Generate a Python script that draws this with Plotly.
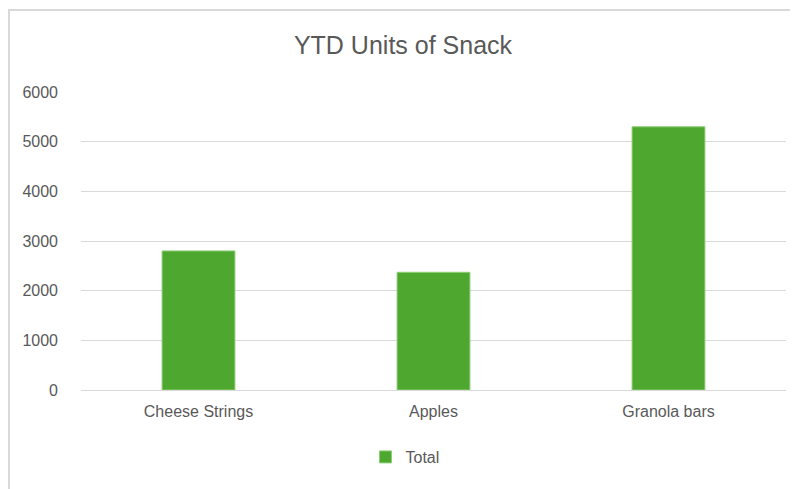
import plotly.graph_objects as go

categories = ["Cheese Strings", "Apples", "Granola bars"]
totals = [2800, 2370, 5300]
y_ticks = [0, 1000, 2000, 3000, 4000, 5000, 6000]

FONT = "Liberation Sans, Arial, sans-serif"
GRAY = "#595959"

fig = go.Figure()
fig.add_trace(go.Bar(
    x=categories, y=totals, name="Total",
    marker=dict(color="#4EA72E", line=dict(color="#8fce78", width=1)),
    width=0.31,
))

# page body has an 8px margin, so figure pixel = screen pixel - 8
W, H = 790, 481
L, R, T, B = 73, 12, 84, 99
pw, ph = W - L - R, H - T - B

def px_x(p):
    return (p - L) / pw

def px_y(p):
    return (H - B - p) / ph

fig.update_layout(
    width=W, height=H,
    margin=dict(l=L, r=R, t=T, b=B),
    paper_bgcolor="white", plot_bgcolor="white",
    font=dict(family=FONT, color=GRAY, size=16),
    title=dict(text="YTD Units of Snack", x=395 / W, xanchor="center",
               y=1 - 37 / H, yref="container", yanchor="middle",
               font=dict(size=25, color=GRAY, family=FONT)),
    showlegend=True,
    legend=dict(orientation="h", x=px_x(397), xanchor="center",
                y=px_y(449), yanchor="middle", font=dict(size=16, color=GRAY),
                itemwidth=30),
    xaxis=dict(showgrid=False, showline=False, ticks="", tickfont=dict(size=16, color=GRAY),
               ticklabelstandoff=10),
    yaxis=dict(range=[0, 6000], tickvals=y_ticks, showgrid=True, gridcolor="#d9d9d9",
               gridwidth=1, zeroline=True, zerolinecolor="#d9d9d9", zerolinewidth=1,
               showline=False, ticks="", tickfont=dict(size=16, color=GRAY),
               ticklabelstandoff=22, fixedrange=True),
    shapes=[
        dict(type="line", xref="paper", yref="paper", x0=px_x(0), x1=px_x(W + 5),
             y0=px_y(2), y1=px_y(2), line=dict(color="#d9d9d9", width=2)),
        dict(type="line", xref="paper", yref="paper", x0=px_x(1), x1=px_x(1),
             y0=px_y(2), y1=px_y(H + 5), line=dict(color="#d9d9d9", width=2)),
    ],
)

fig.write_html("out.html")
